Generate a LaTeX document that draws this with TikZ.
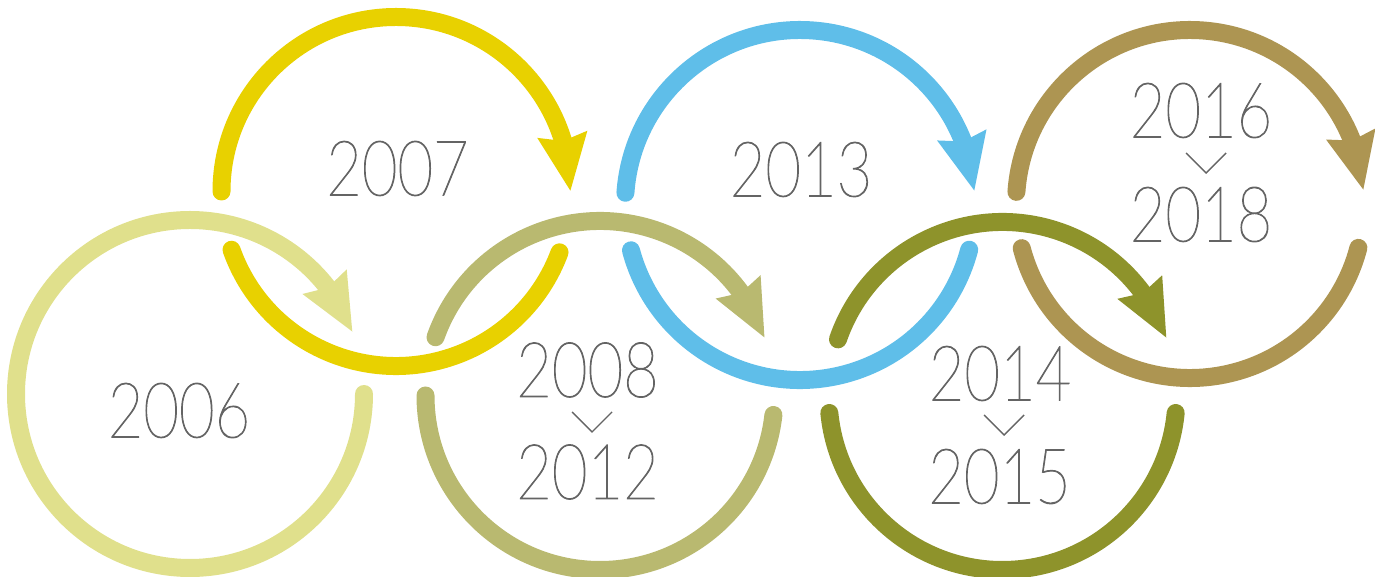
\documentclass[tikz,border=0pt]{standalone}
\usepackage{fontspec}
\usepackage{xcolor}
\usepackage{tikz}
\usetikzlibrary{arrows.meta,bending,calc}
\setmainfont{Lato}
\newfontfamily\yearfont{Lato}[UprightFont=* Hairline, FakeStretch=0.8, FakeBold=1.2]
\definecolor{RingPale}{RGB}{224,224,140}
\definecolor{RingYellow}{RGB}{232,209,0}
\definecolor{RingSage}{RGB}{185,185,112}
\definecolor{RingSky}{RGB}{95,190,233}
\definecolor{RingOlive}{RGB}{142,147,43}
\definecolor{RingTan}{RGB}{173,149,82}
\definecolor{YearGray}{RGB}{100,100,100}
\tikzset{
    ring/.style={line width=0.36cm, line cap=round},
    ringarrow/.style={ring, -{Stealth[length=1.12cm, width=0.94cm, inset=0.1cm, flex]}}
}

\begin{document}
\begin{tikzpicture}[
        x=0.02cm, y=0.02cm,
        % --- STYLE ---
        % Nhan nam: chu mong, mau xam
        yearlabel/.style={
            font=\yearfont\fontsize{43.7}{44}\selectfont,
            text=YearGray,
            inner sep=0pt
        },
        % Dau mui ten nho giua hai nam
        chevron/.style={
            draw=YearGray,
            line width=0.8pt
        }
    ]
        \useasboundingbox (0,0) rectangle (1375,577);

        % --- TAM CAC VONG ---
        \coordinate (c2006) at (190,183);
        \coordinate (c2007) at (396,385.5);
        \coordinate (c2008) at (600,181.5);
        \coordinate (c2013) at (800,372);
        \coordinate (c2014) at (1002.5,181);
        \coordinate (c2016) at (1190,373);

        % --- VE CAC VONG ---
        % Vong 2006 (gan kin)
        \draw[ringarrow, draw=RingPale] ($(c2006)+(0:174)$) arc[start angle=0, end angle=-339.2, radius=174];
        % Vong 2007
        \draw[ringarrow, draw=RingYellow] ($(c2007)+(180:174.5)$) arc[start angle=180, end angle=0, radius=174.5];
        \draw[ring, draw=RingYellow] ($(c2007)+(199.5:174.5)$) arc[start angle=199.5, end angle=339.6, radius=174.5];
        % Vong 2008 - 2012
        \draw[ringarrow, draw=RingSage] ($(c2008)+(160.5:174.5)$) arc[start angle=160.5, end angle=19.2, radius=174.5];
        \draw[ring, draw=RingSage] ($(c2008)+(180:174.5)$) arc[start angle=180, end angle=353.6, radius=174.5];
        % Vong 2013
        \draw[ringarrow, draw=RingSky] ($(c2013)+(176:175)$) arc[start angle=176, end angle=4.5, radius=175];
        \draw[ring, draw=RingSky] ($(c2013)+(195:175)$) arc[start angle=195, end angle=345.2, radius=175];
        % Vong 2014 - 2015
        \draw[ringarrow, draw=RingOlive] ($(c2014)+(161:174)$) arc[start angle=161, end angle=19.4, radius=174];
        \draw[ring, draw=RingOlive] ($(c2014)+(185.6:174)$) arc[start angle=185.6, end angle=354.4, radius=174];
        % Vong 2016 - 2018
        \draw[ringarrow, draw=RingTan] ($(c2016)+(176:174)$) arc[start angle=176, end angle=4.5, radius=174];
        \draw[ring, draw=RingTan] ($(c2016)+(194.7:174)$) arc[start angle=194.7, end angle=345.4, radius=174];

        % --- NHAN NAM ---
        \node[yearlabel] (y2006) at (179,166.5) {2006};
        \node[yearlabel] (y2007) at (397.5,408.5) {2007};
        \node[yearlabel] (y2008) at (587.5,207) {2008};
        \node[yearlabel] (y2012) at (587.5,105) {2012};
        \node[yearlabel] (y2013) at (801,407.5) {2013};
        \node[yearlabel] (y2014) at (1000,203.5) {2014};
        \node[yearlabel] (y2015) at (999.5,100.5) {2015};
        \node[yearlabel] (y2016) at (1201,466.5) {2016};
        \node[yearlabel] (y2018) at (1201,362.5) {2018};

        % --- DAU NOI GIUA HAI NAM ---
        \coordinate (v2008) at (592,145);
        \coordinate (v2014) at (1004,142);
        \coordinate (v2016) at (1206,404);
        \draw[chevron] ($(v2008)+(-20,20)$) -- (v2008) -- ($(v2008)+(20,20)$);
        \draw[chevron] ($(v2014)+(-20,20)$) -- (v2014) -- ($(v2014)+(20,20)$);
        \draw[chevron] ($(v2016)+(-20,20)$) -- (v2016) -- ($(v2016)+(20,20)$);

    \end{tikzpicture}
\end{document}
